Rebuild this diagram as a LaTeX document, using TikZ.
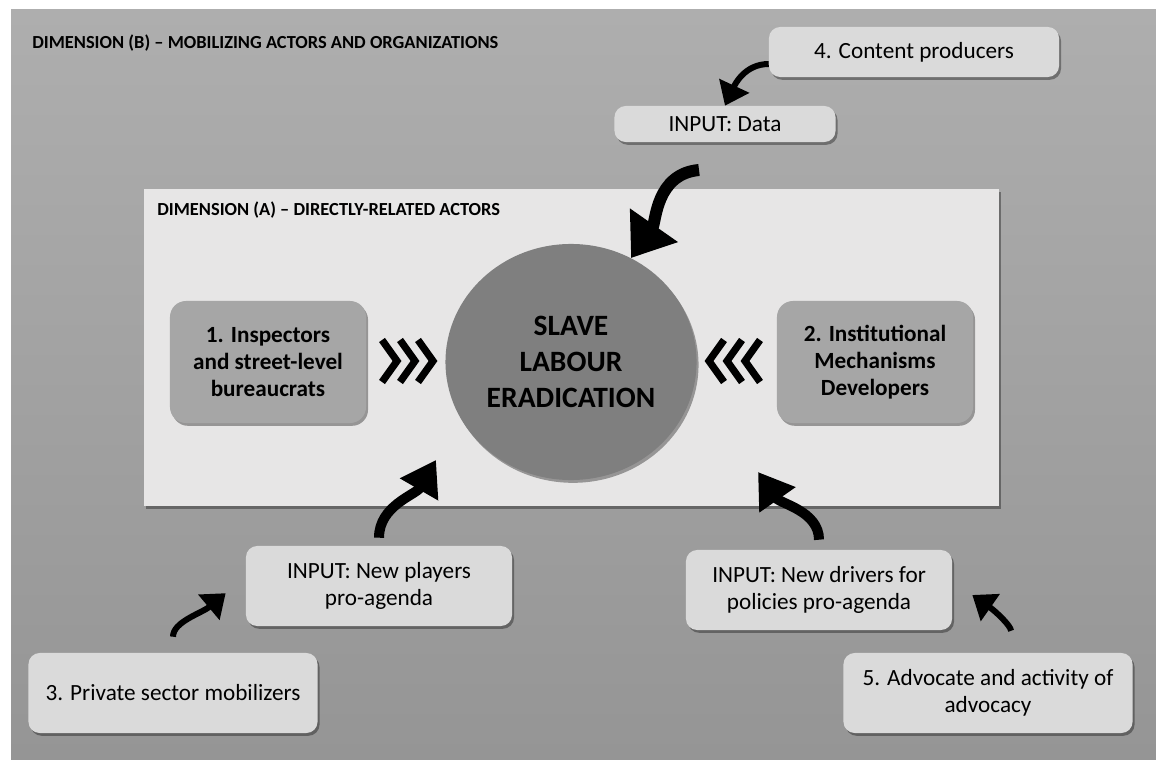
\documentclass[tikz,border=0pt]{standalone}
\usepackage{fontspec}
\setmainfont{Carlito}
\usetikzlibrary{shapes}
\usetikzlibrary{arrows.meta}
\usetikzlibrary{shadows}
\definecolor{bgtop}{HTML}{AEAEAE}
\definecolor{bgbot}{HTML}{959595}
\definecolor{panelgray}{HTML}{E7E6E6}
\definecolor{lightgray}{HTML}{DADADA}
\definecolor{midgray}{HTML}{A6A6A6}
\definecolor{coregray}{HTML}{7F7F7F}
\tikzset{
	boxshadow/.style = {drop shadow={shadow xshift=0.05cm, shadow yshift=-0.07cm,
		opacity=0.35, fill=black}},
	dimtitle/.style = {anchor=west, inner sep=0pt,
		font=\fontsize{13.1}{15}\selectfont\bfseries},% titre de dimension
	lightbox/.style = {rectangle, rounded corners=0.28cm, fill=lightgray, boxshadow,
		align=center, inner sep=0pt, font=\fontsize{16.5}{19.2}\selectfont},% boite claire
	actorbox/.style = {rectangle, rounded corners=0.4cm, fill=midgray, boxshadow,
		align=center, inner sep=0pt, minimum width=4.9cm, minimum height=3.05cm,
		font=\fontsize{16.5}{19.2}\selectfont\bfseries},% acteur direct
	coreball/.style = {ellipse, fill=coregray, boxshadow, align=center, inner sep=0pt,
		minimum width=6.275cm, minimum height=5.9cm,
		font=\fontsize{21}{25.6}\selectfont\bfseries},% noyau central
	smallarrow/.style = {line width=0.15cm, -{Triangle[length=0.55cm, width=0.8cm]}},
	midarrow/.style = {line width=0.25cm, -{Triangle[length=0.85cm, width=1.05cm]}},
	bigarrow/.style = {line width=0.3cm, -{Triangle[length=1cm, width=1.4cm]}},
	chevron/.style = {line width=0.18cm, miter limit=10}
}
\begin{document}
\begin{tikzpicture}[x=0.025cm, y=0.025cm]
	\useasboundingbox (0,0) rectangle (1156,759);
	\fill[top color=bgtop, bottom color=bgbot] (11,0) rectangle (1156,749);
	\node[dimtitle] (titleB) at (32,716) {DIMENSION (B) -- MOBILIZING ACTORS AND ORGANIZATIONS};
	\fill[panelgray, boxshadow] (144,253) rectangle (999,570);
	\node[dimtitle] (titleA) at (157,549) {DIMENSION (A) -- DIRECTLY-RELATED ACTORS};
	% boites
	\node[lightbox, minimum width=7.25cm, minimum height=1.25cm] (content) at (914,707) {4. Content producers};
	\node[lightbox, minimum width=5.525cm, minimum height=0.9cm] (data) at (725,635) {INPUT: Data};
	\node[actorbox] (inspectors) at (268,397) {1. Inspectors\\and street-level\\bureaucrats};
	\node[actorbox] (institutional) at (875,397) {2. Institutional\\Mechanisms\\Developers};
	\node[coreball] (slave) at (571,397) {SLAVE\\LABOUR\\ERADICATION};
	\node[lightbox, minimum width=6.65cm, minimum height=2cm] (players) at (379,173) {INPUT: New players\\pro-agenda};
	\node[lightbox, minimum width=6.65cm, minimum height=2cm] (drivers) at (819,169) {INPUT: New drivers for\\policies pro-agenda};
	\node[lightbox, minimum width=7.225cm, minimum height=2cm] (private) at (173,66) {3. Private sector mobilizers};
	\node[lightbox, minimum width=7.225cm, minimum height=2cm] (advocate) at (988,66) {5. Advocate and activity of\\advocacy};
	% bouts libres
	\coordinate (dataout) at (699,589);
	\coordinate (leftin) at (436,299);
	\coordinate (rightin) at (758,287);
	% fleches
	\draw[smallarrow] ([yshift=-0.3cm]content.west) to[out=180, in=65] (data.north);
	\draw[bigarrow] (dataout) to[out=185, in=55] (slave.60);
	\draw[smallarrow, shorten <=0.4cm] (private.north) to[out=90, in=220] ([xshift=-0.5cm, yshift=-0.18cm]players.west);
	\draw[midarrow, shorten <=0.2cm] (players.north) to[out=90, in=240] (leftin);
	\draw[smallarrow, shorten <=0.55cm] ([xshift=0.625cm]advocate.north) to[out=95, in=-35] ([xshift=0.5cm, yshift=-0.125cm]drivers.east);
	\draw[midarrow, shorten <=0.25cm] (drivers.north) to[out=90, in=-55] (rightin);
	\foreach \x in {382,400,418}
		\draw[chevron] (\x,419) -- ++(15,-21) -- ++(-15,-21);
	\foreach \x in {760,742,724}
		\draw[chevron] (\x,419) -- ++(-15,-21) -- ++(15,-21);
\end{tikzpicture}
\end{document}
